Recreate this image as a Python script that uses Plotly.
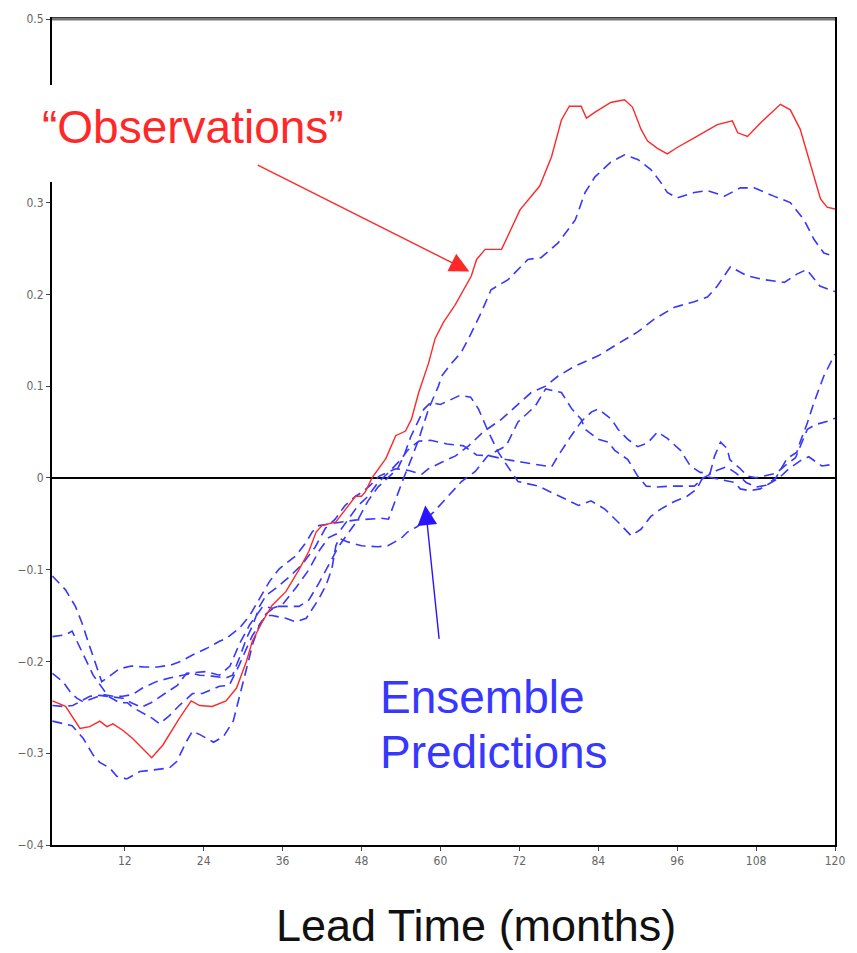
import plotly.graph_objects as go

# ---------------- data ----------------
obs_months = [1, 3, 5.2, 6.7, 8.2, 9.3, 10.2, 11.7, 13.2, 16.1, 17.8, 20.3, 22.1, 23.4, 25.3, 27.4, 29, 30.5, 31.4, 32.9,
              34.4, 36.5, 38.5, 40, 41.1, 42, 44.1, 45.6, 47.1, 48, 48.6, 49.6, 51.7, 53.2, 54.7, 55.6, 56.7, 58.2, 59.2, 60.5,
              62.2, 64.7, 65.5, 66.8, 69.3, 72.1, 75.1, 76.9, 78.4, 79.6, 81.4, 82.2, 83.4, 85.9, 88, 89.2, 90.5, 91.5, 93, 94.5,
              96, 99, 102.1, 104.4, 105.2, 106.7, 108.7, 111.7, 113.2, 114.7, 116.2, 117.8, 118.8, 120]
obs_values = [-0.243, -0.249, -0.273, -0.271, -0.265, -0.271, -0.268, -0.275, -0.284, -0.305, -0.291, -0.262, -0.243, -0.248, -0.249, -0.243, -0.229, -0.2, -0.178, -0.157,
              -0.139, -0.124, -0.1, -0.08, -0.059, -0.052, -0.048, -0.034, -0.02, -0.02, -0.015, 0.0, 0.021, 0.046, 0.051, 0.064, 0.093, 0.125, 0.152, 0.17,
              0.188, 0.22, 0.238, 0.249, 0.249, 0.292, 0.318, 0.35, 0.39, 0.405, 0.405, 0.392, 0.398, 0.409, 0.412, 0.404, 0.38, 0.367, 0.359, 0.353,
              0.36, 0.372, 0.385, 0.389, 0.376, 0.372, 0.387, 0.407, 0.401, 0.38, 0.344, 0.304, 0.295, 0.293]

m1_months = [1, 3, 4.5, 5.5, 6.5, 7.5, 8.5, 9.7, 11.2, 13, 15, 17, 19, 20.5, 22.3, 24.4, 26.4, 27.4, 29.4, 31,
             32.4, 34, 35.5, 37, 38, 39.6, 40.5, 41.5, 43, 45, 47, 49.5, 51, 52.1, 53.2, 54.2, 55.6, 56.7, 57.7, 58.2,
             59.7, 60.2, 61.7, 63.2, 64.5, 66.2, 67.7, 70.3, 73.3, 75.3, 77.9, 80.5, 82, 83.5, 85.9, 88, 90, 92, 93.5, 94.5,
             96, 98.6, 100.6, 103.2, 105.6, 107.7, 110.7, 113.2, 115.3, 116.8, 118.3, 120]
m1_values = [-0.107, -0.122, -0.14, -0.158, -0.18, -0.2, -0.222, -0.216, -0.208, -0.205, -0.206, -0.206, -0.204, -0.2, -0.193, -0.186, -0.178, -0.175, -0.164, -0.15,
             -0.132, -0.113, -0.099, -0.091, -0.085, -0.07, -0.059, -0.052, -0.05, -0.048, -0.046, -0.045, -0.044, -0.045, -0.023, -0.004, 0.021, 0.042, 0.064, 0.075,
             0.1, 0.111, 0.125, 0.137, 0.155, 0.18, 0.205, 0.216, 0.238, 0.24, 0.256, 0.281, 0.311, 0.328, 0.344, 0.352, 0.347, 0.336, 0.322, 0.311,
             0.305, 0.311, 0.313, 0.307, 0.316, 0.316, 0.307, 0.3, 0.281, 0.26, 0.245, 0.241]

m2_months = [1, 3, 4, 5.2, 6.2, 7.2, 8.2, 9.5, 11.2, 12.4, 13.2, 14.7, 16.2, 17.3, 18.8, 20.3, 22.3, 23.8, 26.4, 27.9,
             29.4, 30.5, 31.4, 32.5, 33.5, 34.4, 36.5, 38, 39.6, 41.5, 42.6, 43.5, 44.1, 44.6, 46, 48, 50.5, 52, 54, 55,
             56.5, 59, 61.5, 63.2, 65.3, 67.2, 70, 71.8, 74.4, 76, 78.4, 80, 81.4, 82, 84, 85.5, 86.5, 88.5, 90, 91.3,
             93, 95, 97, 98.6, 100, 102, 103.5, 105, 106.5, 108, 109.5, 111, 112.7, 114.2, 114.7, 115.8, 116.8, 118.3, 120]
m2_values = [-0.173, -0.171, -0.167, -0.186, -0.2, -0.215, -0.225, -0.238, -0.245, -0.245, -0.25, -0.256, -0.262, -0.268, -0.259, -0.248, -0.235, -0.235, -0.227, -0.226,
             -0.204, -0.186, -0.172, -0.16, -0.15, -0.15, -0.153, -0.157, -0.153, -0.132, -0.117, -0.099, -0.074, -0.066, -0.07, -0.074, -0.075, -0.074, -0.066, -0.059,
             -0.053, -0.037, -0.018, -0.004, 0.007, 0.024, 0.035, 0.061, 0.078, 0.097, 0.093, 0.075, 0.064, 0.053, 0.042, 0.039, 0.03, 0.02, 0.002, -0.009,
             -0.01, -0.009, -0.009, -0.009, 0.0, 0.008, 0.012, 0.005, -0.005, -0.01, -0.008, 0.0, 0.021, 0.028, 0.039, 0.06, 0.082, 0.111, 0.135]

m3_months = [1, 2.6, 3.7, 4.7, 5.7, 7.2, 8.7, 10.2, 11.7, 13.2, 14.7, 16.8, 18.8, 20.8, 22.3, 23.4, 25.3, 27.4, 28.4, 29.5,
             30.5, 31.5, 32.5, 33.5, 35, 37, 39, 41, 42.5, 44, 45.5, 47.1, 48.2, 49.2, 50.7, 53.2, 55.2, 57.2, 58.2, 60.2,
             62.3, 64.3, 66.5, 69.3, 71.4, 73.8, 76, 77.9, 80.5, 84, 86.5, 90, 92.5, 95.6, 98.6, 100.6, 102.1, 104.1, 106.7, 109.2,
             112.3, 114.2, 115.7, 117.7, 120]
m3_values = [-0.213, -0.222, -0.233, -0.24, -0.244, -0.24, -0.236, -0.238, -0.238, -0.236, -0.229, -0.222, -0.218, -0.215, -0.213, -0.215, -0.216, -0.218, -0.215, -0.195,
             -0.175, -0.16, -0.14, -0.128, -0.12, -0.108, -0.094, -0.075, -0.055, -0.045, -0.03, -0.02, -0.015, -0.009, 0.002, 0.01, 0.008, 0.004, 0.01, 0.017,
             0.024, 0.035, 0.05, 0.064, 0.078, 0.093, 0.1, 0.111, 0.122, 0.133, 0.144, 0.159, 0.173, 0.186, 0.192, 0.197, 0.209, 0.23, 0.22, 0.216,
             0.213, 0.222, 0.227, 0.209, 0.203]

m4_months = [1, 2.6, 4.1, 5.5, 6.7, 8.2, 9.7, 11.7, 13, 14.5, 16, 18, 20, 21.4, 24.4, 26.4, 28, 29.5, 31, 32,
             33, 34.5, 36, 38, 40, 41.5, 43, 44.5, 46, 47.5, 49, 50.5, 52, 53, 54, 55, 56.7, 58.5, 61, 63.5,
             65.5, 67.5, 70, 72.5, 76.9, 77.9, 79.9, 81.5, 83, 84, 86, 87, 88.5, 90, 91.5, 93, 94.5, 96.5, 98, 99.5,
             101, 101.7, 102.6, 103.6, 104, 105.6, 106.7, 108, 111, 112.7, 114, 115.8, 117, 119, 120]
m4_values = [-0.248, -0.249, -0.248, -0.243, -0.238, -0.237, -0.238, -0.24, -0.245, -0.25, -0.245, -0.235, -0.226, -0.213, -0.211, -0.215, -0.205, -0.18, -0.16, -0.15,
             -0.14, -0.142, -0.138, -0.12, -0.1, -0.08, -0.065, -0.06, -0.045, -0.03, -0.02, -0.005, 0.005, 0.012, 0.02, 0.03, 0.04, 0.041, 0.037, 0.035,
             0.025, 0.024, 0.02, 0.017, 0.012, 0.024, 0.046, 0.062, 0.072, 0.075, 0.064, 0.053, 0.042, 0.034, 0.038, 0.05, 0.043, 0.03, 0.013, 0.006,
             0.005, 0.024, 0.039, 0.032, 0.02, 0.01, 0.002, 0.0, 0.005, 0.015, 0.022, 0.053, 0.058, 0.062, 0.065]

m5_months = [1, 4, 5.7, 7.2, 8.2, 9.7, 10.8, 12.3, 14.3, 16.2, 18.8, 19.9, 21.4, 22.3, 23.5, 25.5, 27, 28.5, 29.4, 30.5,
             31.5, 32.5, 33.5, 35, 37, 38.5, 40, 41.5, 43, 44.5, 46, 47.5, 49, 50.5, 52, 53.5, 54.5, 55.5, 56.5, 57.5,
             58.5, 60, 61.5, 63, 64.6, 65.8, 67.3, 68.8, 69.8, 71.8, 74.9, 79, 81, 82.9, 85, 87, 89, 90.5, 92, 93.5,
             95.5, 97.5, 99, 100, 101.5, 103, 104.7, 105.6, 107.1, 108.6, 110.2, 111.5, 113, 115, 116, 118, 120]
m5_values = [-0.265, -0.27, -0.284, -0.302, -0.31, -0.316, -0.325, -0.328, -0.32, -0.318, -0.316, -0.309, -0.287, -0.276, -0.28, -0.288, -0.282, -0.265, -0.24, -0.21,
             -0.18, -0.16, -0.148, -0.14, -0.14, -0.14, -0.133, -0.115, -0.095, -0.075, -0.06, -0.045, -0.025, -0.01, 0.0, 0.01, 0.025, 0.045, 0.06, 0.075,
             0.082, 0.08, 0.085, 0.09, 0.088, 0.075, 0.05, 0.028, 0.017, -0.004, -0.009, -0.023, -0.03, -0.025, -0.034, -0.048, -0.063, -0.056, -0.042, -0.034,
             -0.026, -0.02, -0.012, 0.002, 0.0, -0.002, -0.005, -0.012, -0.014, -0.012, -0.005, 0.0, 0.01, 0.02, 0.023, 0.013, 0.015]

ensemble = [
    (m1_months, m1_values),
    (m2_months, m2_values),
    (m3_months, m3_values),
    (m4_months, m4_values),
    (m5_months, m5_values),
]

x_ticks = [12, 24, 36, 48, 60, 72, 84, 96, 108, 120]
y_ticks = [-0.4, -0.3, -0.2, -0.1, 0, 0.1, 0.2, 0.3, 0.4, 0.5]
y_ticklabels = ["\u22120.4", "\u22120.3", "\u22120.2", "\u22120.1", "0", "0.1", "0.2", "0.3", "0.4", "0.5"]

# ---------------- figure ----------------
W, H = 857, 953
L, R, T, B = 52, 19, 19, 108
PW, PH = W - L - R, H - T - B

def xp(px):
    return (px - L) / PW

def yp(py):
    return (H - B - py) / PH

BLUE = "rgb(55,55,255)"
RED = "rgb(255,40,40)"

fig = go.Figure()
for mx, my in ensemble:
    fig.add_trace(go.Scatter(x=mx, y=my, mode="lines",
                             line=dict(color=BLUE, width=1.6, dash="10px,6px"),
                             showlegend=False, hoverinfo="skip"))
fig.add_trace(go.Scatter(x=obs_months, y=obs_values, mode="lines",
                         line=dict(color=RED, width=1.4),
                         showlegend=False, hoverinfo="skip"))

tickfont = dict(family="Liberation Sans Narrow, DejaVu Sans Condensed, Liberation Sans, Arial", size=12, color="#666666")

fig.update_layout(
    width=W, height=H,
    margin=dict(l=L, r=R, t=T, b=B, pad=0),
    paper_bgcolor="white", plot_bgcolor="white",
    xaxis=dict(range=[0.94, 120], tickvals=x_ticks, ticktext=[str(v) for v in x_ticks],
               showgrid=False, zeroline=False, showline=True, mirror=True,
               linecolor="black", linewidth=2, ticks="outside", ticklen=4,
               tickcolor="#444", tickfont=tickfont),
    yaxis=dict(range=[-0.4, 0.5], tickvals=y_ticks, ticktext=y_ticklabels,
               showgrid=False, zeroline=True, zerolinecolor="black", zerolinewidth=2,
               showline=True, mirror=True, linecolor="black", linewidth=2,
               ticks="outside", ticklen=4, tickcolor="#444", tickfont=tickfont),
    font=dict(family="Liberation Sans, Arial, sans-serif"),
)

# thicker grey top border as in the reference
fig.add_shape(type="line", xref="paper", yref="paper", x0=0, x1=1, y0=1, y1=1,
              line=dict(color="#777777", width=3), layer="above")

# white box hiding part of the left axis (behind the "Observations" label)
fig.add_shape(type="rect", xref="paper", yref="paper",
              x0=xp(0), x1=xp(62), y0=yp(182), y1=yp(85),
              fillcolor="white", line=dict(width=0), layer="above")

# text labels
fig.add_annotation(text="\u201cObservations\u201d", xref="paper", yref="paper",
                   x=xp(40), y=yp(127), xanchor="left", yanchor="middle",
                   showarrow=False, font=dict(size=46, color=RED, family="Liberation Sans, Arial"))
fig.add_annotation(text="Ensemble", xref="paper", yref="paper",
                   x=xp(379), y=yp(697), xanchor="left", yanchor="middle",
                   showarrow=False, font=dict(size=46, color=BLUE, family="Liberation Sans, Arial"))
fig.add_annotation(text="Predictions", xref="paper", yref="paper",
                   x=xp(379), y=yp(752), xanchor="left", yanchor="middle",
                   showarrow=False, font=dict(size=46, color=BLUE, family="Liberation Sans, Arial"))
fig.add_annotation(text="Lead Time (months)", xref="paper", yref="paper",
                   x=xp(478), y=yp(952), xanchor="center", yanchor="bottom",
                   showarrow=False, borderpad=0,
                   font=dict(size=45, color="#111111", family="Liberation Sans, Arial"))

# arrows
fig.add_annotation(x=64.4, y=0.225, xref="x", yref="y", text="", showarrow=True,
                   ax=-213, ay=-107, arrowhead=2, arrowsize=2.8, arrowwidth=1.4,
                   arrowcolor=RED)
fig.add_annotation(x=57.7, y=-0.030, xref="x", yref="y", text="", showarrow=True,
                   ax=14, ay=135, arrowhead=2, arrowsize=2.8, arrowwidth=1.4,
                   arrowcolor="rgb(40,20,255)")

fig.write_html("out.html")
